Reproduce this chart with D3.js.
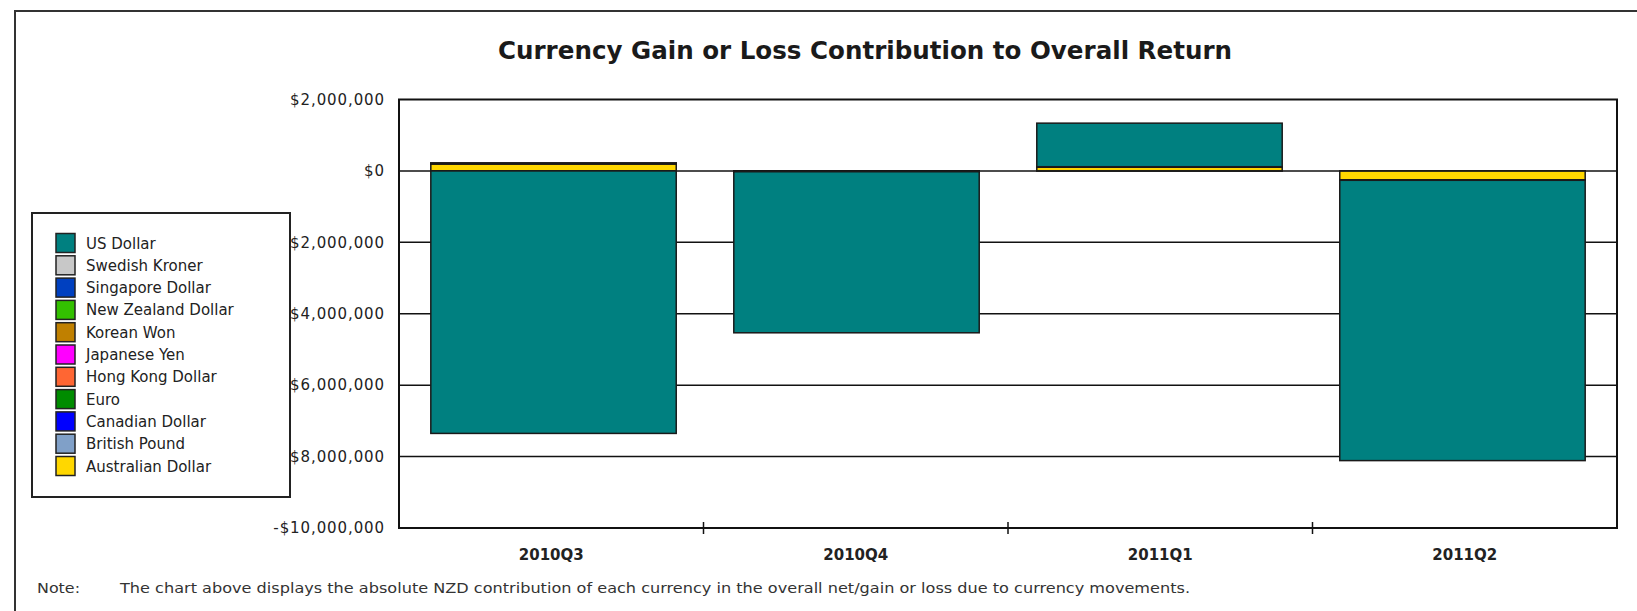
<!DOCTYPE html>
<html>
<head>
<meta charset="utf-8">
<script src="https://cdn.jsdelivr.net/npm/d3@7"></script>
<style>
  body { margin: 0; background: #fff; }
  svg { display: block; font-family: "DejaVu Sans", Verdana, sans-serif; }
</style>
</head>
<body>
<svg></svg>
<script>
const quarters = ["2010Q3", "2010Q4", "2011Q1", "2011Q2"];

// legend order (top to bottom)
const currencies = [
  "US Dollar", "Swedish Kroner", "Singapore Dollar", "New Zealand Dollar",
  "Korean Won", "Japanese Yen", "Hong Kong Dollar", "Euro",
  "Canadian Dollar", "British Pound", "Australian Dollar"
];
const colors = [
  "#008080", "#c8c8c8", "#0040c0", "#33c000",
  "#c08000", "#ff00ff", "#ff6633", "#008c00",
  "#0000ff", "#80a0c8", "#ffd700"
];

// NZD contribution per quarter, one array per currency
const usDollar = [-7350000, -4510000, 1220000, -7850000];
const swedishKroner = [1000, -800, 600, -900];
const singaporeDollar = [1500, -1200, 800, -1000];
const newZealandDollar = [0, 0, 0, 0];
const koreanWon = [900, -600, 500, -700];
const japaneseYen = [2500, -1800, 1200, -2200];
const hongKongDollar = [-1200, 700, -900, 1100];
const euro = [4000, -3000, 2000, -3500];
const canadianDollar = [2000, -1500, 1000, -1800];
const britishPound = [3000, -2500, 1500, -2600];
const australianDollar = [200000, -12000, 110000, -250000];

const seriesValues = [
  usDollar, swedishKroner, singaporeDollar, newZealandDollar,
  koreanWon, japaneseYen, hongKongDollar, euro,
  canadianDollar, britishPound, australianDollar
];

const yTicks = [-10000000, -8000000, -6000000, -4000000, -2000000, 0, 2000000];
const yTickLabels = ["-$10,000,000", "-$8,000,000", "-$6,000,000", "-$4,000,000",
  "-$2,000,000", "$0", "$2,000,000"];

const titleText = "Currency Gain or Loss Contribution to Overall Return";
const noteLabel = "Note:";
const noteText = "The chart above displays the absolute NZD contribution of each currency in the overall net/gain or loss due to currency movements.";

const sizes = {
  width: 1637,
  height: 611,
  plot: { left: 399, right: 1617, top: 99.5, bottom: 528 },
  legend: { x: 32, y: 213, width: 258, height: 284, rowStart: 243, rowStep: 22.3 }
};

const svg = d3.select("svg")
  .attr("width", sizes.width)
  .attr("height", sizes.height);

// outer frame, runs off the right and bottom edges
svg.append("rect")
  .attr("x", 15)
  .attr("y", 11)
  .attr("width", 1700)
  .attr("height", 700)
  .attr("fill", "none")
  .attr("stroke", "#333")
  .attr("stroke-width", 2);

svg.append("text")
  .attr("x", 865)
  .attr("y", 59)
  .attr("text-anchor", "middle")
  .attr("font-size", 25)
  .attr("font-weight", "bold")
  .attr("fill", "#1a1a1a")
  .attr("textLength", 734)
  .attr("lengthAdjust", "spacingAndGlyphs")
  .text(titleText);

// table for the stack
const table = quarters.map((q, i) => {
  const row = { quarter: q };
  currencies.forEach((c, j) => { row[c] = seriesValues[j][i]; });
  return row;
});

const stackKeys = currencies.slice().reverse(); // Australian Dollar sits next to zero
const stacked = d3.stack()
  .keys(stackKeys)
  .offset(d3.stackOffsetDiverging)(table);

const p = sizes.plot;

const x = d3.scaleBand()
  .domain(quarters)
  .range([p.left, p.right])
  .paddingInner(0.19)
  .paddingOuter(0.105);

const xSlots = d3.scaleBand()
  .domain(quarters)
  .range([p.left, p.right]);

const y = d3.scaleLinear()
  .domain([-10000000, 2000000])
  .range([p.bottom, p.top]);

const color = d3.scaleOrdinal().domain(currencies).range(colors);

// gridlines
svg.append("g")
  .selectAll("line")
  .data(yTicks.filter(d => d > -10000000 && d < 2000000))
  .enter()
  .append("line")
  .attr("x1", p.left)
  .attr("x2", p.right)
  .attr("y1", d => y(d))
  .attr("y2", d => y(d))
  .attr("stroke", "#111")
  .attr("stroke-width", 1.5);

// bars
svg.append("g")
  .selectAll("g")
  .data(stacked)
  .enter()
  .append("g")
  .attr("fill", d => color(d.key))
  .selectAll("rect")
  .data(d => d)
  .enter()
  .append("rect")
  .attr("x", d => x(d.data.quarter))
  .attr("width", x.bandwidth())
  .attr("y", d => y(Math.max(d[0], d[1])))
  .attr("height", d => Math.abs(y(d[0]) - y(d[1])))
  .attr("stroke", "#1a1a1a")
  .attr("stroke-width", 1.5);

// plot border
svg.append("rect")
  .attr("x", p.left)
  .attr("y", p.top)
  .attr("width", p.right - p.left)
  .attr("height", p.bottom - p.top)
  .attr("fill", "none")
  .attr("stroke", "#111")
  .attr("stroke-width", 2);

// y axis labels
const yAxis = svg.append("g")
  .attr("transform", `translate(${p.left},0)`)
  .call(d3.axisLeft(y)
    .tickValues(yTicks)
    .tickSize(0)
    .tickPadding(14)
    .tickFormat((d, i) => yTickLabels[i]));
yAxis.select(".domain").remove();
yAxis.selectAll("text")
  .attr("font-family", "DejaVu Sans, sans-serif")
  .attr("font-size", 15)
  .attr("letter-spacing", 0.9)
  .attr("fill", "#222");

// x axis: ticks at category boundaries, labels centred
const xAxis = svg.append("g");
xAxis.selectAll("line")
  .data(quarters.slice(1))
  .enter()
  .append("line")
  .attr("x1", d => xSlots(d))
  .attr("x2", d => xSlots(d))
  .attr("y1", p.bottom - 6)
  .attr("y2", p.bottom + 6)
  .attr("stroke", "#111")
  .attr("stroke-width", 1.5);
xAxis.selectAll("text")
  .data(quarters)
  .enter()
  .append("text")
  .attr("x", d => xSlots(d) + xSlots.bandwidth() / 2)
  .attr("y", 560)
  .attr("text-anchor", "middle")
  .attr("font-size", 15)
  .attr("font-weight", "bold")
  .attr("fill", "#222")
  .text(d => d);

// legend, drawn over the y labels like the original
const lg = sizes.legend;
svg.append("rect")
  .attr("x", lg.x)
  .attr("y", lg.y)
  .attr("width", lg.width)
  .attr("height", lg.height)
  .attr("fill", "#fff")
  .attr("stroke", "#222")
  .attr("stroke-width", 2);

const items = svg.append("g")
  .selectAll("g")
  .data(currencies)
  .enter()
  .append("g")
  .attr("transform", (d, i) => `translate(0, ${lg.rowStart + i * lg.rowStep})`);

items.append("rect")
  .attr("x", 56)
  .attr("y", -9.5)
  .attr("width", 19)
  .attr("height", 19)
  .attr("fill", d => color(d))
  .attr("stroke", "#222")
  .attr("stroke-width", 1.5);

items.append("text")
  .attr("x", 86)
  .attr("y", 5.5)
  .attr("font-size", 15)
  .attr("fill", "#222")
  .text(d => d);

// note
svg.append("text")
  .attr("x", 37)
  .attr("y", 593)
  .attr("font-size", 14)
  .attr("fill", "#333")
  .attr("textLength", 43)
  .attr("lengthAdjust", "spacingAndGlyphs")
  .text(noteLabel);

svg.append("text")
  .attr("x", 120)
  .attr("y", 593)
  .attr("font-size", 14)
  .attr("fill", "#333")
  .attr("textLength", 1070)
  .attr("lengthAdjust", "spacingAndGlyphs")
  .text(noteText);
</script>
</body>
</html>
